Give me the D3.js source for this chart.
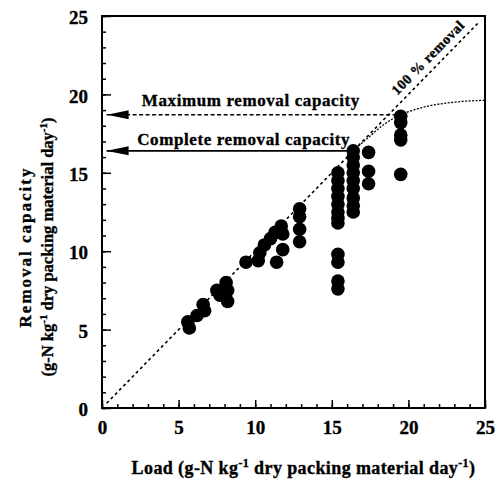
<!DOCTYPE html>
<html>
<head>
<meta charset="utf-8">
<script src="https://cdn.jsdelivr.net/npm/d3@7"></script>
<style>
  body { margin: 0; background: #fff; }
  text { font-family: "Liberation Serif", "DejaVu Serif", serif; font-weight: bold; fill: #000; stroke: #000; stroke-width: 0.35px; }
</style>
</head>
<body>
<div id="chart"></div>
<script>
// load (x) and removal capacity (y)
const loadValues = [
  5.6, 5.7, 6.2, 6.6, 6.7, 7.5, 7.7, 8.1, 8.2, 8.2,
  9.4, 10.2, 10.3, 10.6, 11.0, 11.3, 11.4, 11.7, 11.8, 11.8,
  12.9, 12.9, 12.9, 12.9,
  15.4, 15.4, 15.4, 15.4, 15.4, 15.4, 15.4, 15.4, 15.4, 15.4, 15.4, 15.4,
  16.4, 16.4, 16.4, 16.4, 16.4, 16.4, 16.4, 16.4, 16.4,
  17.4, 17.4, 17.4,
  19.5, 19.5, 19.5, 19.5, 19.5
];
const removalValues = [
  5.5, 5.1, 5.9, 6.6, 6.2, 7.5, 7.2, 8.0, 7.5, 6.8,
  9.3, 9.4, 9.9, 10.4, 10.8, 11.2, 9.3, 11.6, 10.1, 11.1,
  12.7, 12.2, 11.4, 10.6,
  15.0, 14.5, 14.0, 13.5, 13.0, 12.5, 12.1, 11.8, 9.8, 9.3, 8.1, 7.6,
  16.4, 16.0, 15.5, 15.0, 14.5, 14.0, 13.4, 12.9, 12.5,
  16.3, 15.1, 14.3,
  18.6, 18.2, 17.4, 17.1, 14.9
];
const tickLabels = [0, 5, 10, 15, 20, 25];
const minorTicks = d3.range(0, 26, 1);
// saturation curve (dotted)
const curveLoad = [16.4, 17.5, 18.5, 19.5, 20.5, 21.5, 22.5, 23.5, 24.3, 25];
const curveRemoval = [16.4, 17.35, 18.15, 18.7, 19.05, 19.3, 19.45, 19.55, 19.6, 19.62];
const diagonal = [0.3, 24.6];
const maxCapacity = 18.7;
const completeCapacity = 16.4;

const width = 504, height = 484;
const margin = { left: 102, right: 19, top: 16, bottom: 76 };

const svg = d3.select("#chart").append("svg")
    .attr("width", width)
    .attr("height", height);

const x = d3.scaleLinear().domain([0, 25]).range([margin.left, width - margin.right]);
const y = d3.scaleLinear().domain([0, 25]).range([height - margin.bottom, margin.top]);

const defs = svg.append("defs");
defs.append("marker")
    .attr("id", "arrow")
    .attr("viewBox", "0 0 22 10")
    .attr("refX", 0).attr("refY", 5)
    .attr("markerWidth", 22).attr("markerHeight", 10)
    .attr("markerUnits", "userSpaceOnUse")
    .attr("orient", "auto")
    .append("path")
    .attr("d", "M0,5 L22,0.5 L22,9.5 Z")
    .attr("fill", "#000");

// minor ticks
const xMinor = d3.axisBottom(x).tickValues(minorTicks).tickSize(-4).tickFormat("");
const yMinor = d3.axisLeft(y).tickValues(minorTicks).tickSize(-4).tickFormat("");
svg.append("g").attr("transform", `translate(0,${y(0)})`).call(xMinor)
    .call(g => g.select(".domain").remove());
svg.append("g").attr("transform", `translate(${x(0)},0)`).call(yMinor)
    .call(g => g.select(".domain").remove());

// major ticks with labels
const xAxis = d3.axisBottom(x).tickValues(tickLabels).tickSize(-8);
const yAxis = d3.axisLeft(y).tickValues(tickLabels).tickSize(-9);
svg.append("g").attr("transform", `translate(0,${y(0)})`).call(xAxis)
    .call(g => g.select(".domain").remove())
    .call(g => g.selectAll("text")
        .style("font-size", "19px").style("font-family", "Liberation Serif")
        .attr("y", 26).attr("dy", "0"));
svg.append("g").attr("transform", `translate(${x(0)},0)`).call(yAxis)
    .call(g => g.select(".domain").remove())
    .call(g => g.selectAll("text")
        .style("font-size", "19px").style("font-family", "Liberation Serif")
        .attr("x", -14).attr("dy", "0.4em"));
svg.selectAll(".tick line").attr("stroke", "#000").attr("stroke-width", 1.5);

// frame
svg.append("rect")
    .attr("x", x(0)).attr("y", y(25))
    .attr("width", x(25) - x(0)).attr("height", y(0) - y(25))
    .attr("fill", "none").attr("stroke", "#000").attr("stroke-width", 2);

// 100% removal line
svg.append("line")
    .attr("x1", x(diagonal[0])).attr("y1", y(diagonal[0]))
    .attr("x2", x(diagonal[1])).attr("y2", y(diagonal[1]))
    .attr("stroke", "#000").attr("stroke-width", 1.6)
    .attr("stroke-dasharray", "3,3");

// saturation curve
const line = d3.line().x(d => x(d[0])).y(d => y(d[1])).curve(d3.curveMonotoneX);
svg.append("path")
    .datum(curveLoad.map((v, i) => [v, curveRemoval[i]]))
    .attr("d", line)
    .attr("fill", "none").attr("stroke", "#000").attr("stroke-width", 1.3)
    .attr("stroke-dasharray", "2,1.5");

// arrows
svg.append("line")
    .attr("x1", x(0.3)).attr("y1", y(maxCapacity))
    .attr("x2", x(19.3)).attr("y2", y(maxCapacity))
    .attr("stroke", "#000").attr("stroke-width", 1.6)
    .attr("stroke-dasharray", "4,2.5")
    .attr("marker-start", "url(#arrow)");
svg.append("line")
    .attr("x1", x(0.3)).attr("y1", y(completeCapacity))
    .attr("x2", x(16.3)).attr("y2", y(completeCapacity))
    .attr("stroke", "#000").attr("stroke-width", 1.8)
    .attr("marker-start", "url(#arrow)");

svg.append("text")
    .attr("x", x(2.6)).attr("y", y(maxCapacity) - 9)
    .style("font-size", "17px").style("letter-spacing", "0.6px")
    .text("Maximum removal capacity");
svg.append("text")
    .attr("x", x(2.3)).attr("y", y(completeCapacity) - 6)
    .style("font-size", "17px").style("letter-spacing", "0.6px")
    .text("Complete removal capacity");

// label along the diagonal
const ang = -Math.atan2(y(0) - y(25), x(25) - x(0)) * 180 / Math.PI;
svg.append("text")
    .attr("transform", `translate(${x(19.6) - 5},${y(19.6) - 5}) rotate(${ang})`)
    .style("font-size", "14px").style("letter-spacing", "0.5px")
    .text("100 % removal");

// data points
svg.append("g").selectAll("circle")
    .data(loadValues.map((v, i) => [v, removalValues[i]]))
    .join("circle")
    .attr("cx", d => x(d[0]))
    .attr("cy", d => y(d[1]))
    .attr("r", 6.8)
    .attr("fill", "#000");

// axis titles
const xt = svg.append("text")
    .attr("x", (x(0) + x(25)) / 2 + 10).attr("y", 474)
    .attr("text-anchor", "middle")
    .style("font-size", "18px").style("letter-spacing", "0.4px");
xt.append("tspan").text("Load (g-N kg");
xt.append("tspan").attr("dy", -7).style("font-size", "12px").text("-1");
xt.append("tspan").attr("dy", 7).text(" dry packing material day");
xt.append("tspan").attr("dy", -7).style("font-size", "12px").text("-1");
xt.append("tspan").attr("dy", 7).text(")");

const yt = svg.append("g").attr("transform", `translate(0,247) rotate(-90)`);
yt.append("text")
    .attr("x", 0).attr("y", 31)
    .attr("text-anchor", "middle")
    .style("font-size", "17px").style("letter-spacing", "2px")
    .text("Removal capacity");
const yt2 = yt.append("text")
    .attr("x", 0).attr("y", 53)
    .attr("text-anchor", "middle")
    .style("font-size", "16.5px");
yt2.append("tspan").text("(g-N kg");
yt2.append("tspan").attr("dy", -6).style("font-size", "11px").text("-1");
yt2.append("tspan").attr("dy", 6).text(" dry packing material day");
yt2.append("tspan").attr("dy", -6).style("font-size", "11px").text("-1");
yt2.append("tspan").attr("dy", 6).text(")");
</script>
</body>
</html>
